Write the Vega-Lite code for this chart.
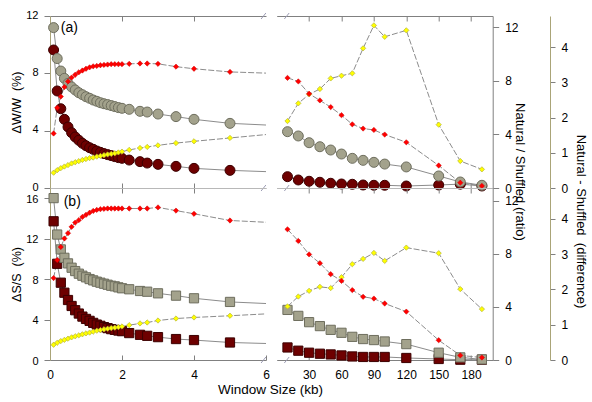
{
  "$schema": "https://vega.github.io/schema/vega-lite/v6.json",
  "padding": {"left": 10, "top": 9, "right": 5, "bottom": 5},
  "config": {
    "font": "Liberation Sans",
    "view": {"stroke": null},
    "axis": {"labelFontSize": 12, "labelColor": "#000", "titleColor": "#000", "titleFontWeight": "normal", "grid": false, "labelFlush": false, "domainWidth": 1, "tickWidth": 1, "tickColor": "#808080", "domainColor": "#808080"}
  },
  "datasets": {
    "a": [
      {"x":0.1,"nat":11.19,"shuf":9.63,"ratio":1.14,"diff":1.55},
      {"x":0.2,"nat":9.03,"shuf":6.77,"ratio":1.33,"diff":2.28},
      {"x":0.3,"nat":8.16,"shuf":5.53,"ratio":1.48,"diff":2.6},
      {"x":0.4,"nat":7.65,"shuf":4.79,"ratio":1.6,"diff":2.87},
      {"x":0.5,"nat":7.3,"shuf":4.26,"ratio":1.71,"diff":3.03},
      {"x":0.6,"nat":7.05,"shuf":3.86,"ratio":1.83,"diff":3.14},
      {"x":0.7,"nat":6.84,"shuf":3.56,"ratio":1.92,"diff":3.22},
      {"x":0.8,"nat":6.65,"shuf":3.33,"ratio":2.0,"diff":3.29},
      {"x":0.9,"nat":6.51,"shuf":3.12,"ratio":2.09,"diff":3.34},
      {"x":1.0,"nat":6.37,"shuf":2.95,"ratio":2.16,"diff":3.39},
      {"x":1.1,"nat":6.26,"shuf":2.81,"ratio":2.23,"diff":3.43},
      {"x":1.2,"nat":6.14,"shuf":2.7,"ratio":2.27,"diff":3.46},
      {"x":1.3,"nat":6.05,"shuf":2.58,"ratio":2.34,"diff":3.47},
      {"x":1.4,"nat":5.95,"shuf":2.49,"ratio":2.39,"diff":3.49},
      {"x":1.5,"nat":5.88,"shuf":2.4,"ratio":2.45,"diff":3.5},
      {"x":1.6,"nat":5.82,"shuf":2.33,"ratio":2.5,"diff":3.51},
      {"x":1.7,"nat":5.75,"shuf":2.26,"ratio":2.54,"diff":3.52},
      {"x":1.8,"nat":5.68,"shuf":2.19,"ratio":2.59,"diff":3.52},
      {"x":1.9,"nat":5.61,"shuf":2.12,"ratio":2.65,"diff":3.52},
      {"x":2.0,"nat":5.56,"shuf":2.07,"ratio":2.71,"diff":3.52},
      {"x":2.2,"nat":5.49,"shuf":1.95,"ratio":2.84,"diff":3.53},
      {"x":2.5,"nat":5.35,"shuf":1.84,"ratio":2.98,"diff":3.54},
      {"x":2.7,"nat":5.3,"shuf":1.74,"ratio":3.06,"diff":3.54},
      {"x":3.0,"nat":5.16,"shuf":1.65,"ratio":3.18,"diff":3.53},
      {"x":3.5,"nat":4.98,"shuf":1.51,"ratio":3.35,"diff":3.45},
      {"x":4.0,"nat":4.79,"shuf":1.37,"ratio":3.48,"diff":3.39},
      {"x":5.0,"nat":4.51,"shuf":1.23,"ratio":3.73,"diff":3.3},
      {"x":10,"nat":3.93,"shuf":0.79,"ratio":4.99,"diff":3.13},
      {"x":20,"nat":3.63,"shuf":0.56,"ratio":6.31,"diff":3.03},
      {"x":30,"nat":3.16,"shuf":0.47,"ratio":6.98,"diff":2.68},
      {"x":40,"nat":2.88,"shuf":0.4,"ratio":7.38,"diff":2.49},
      {"x":50,"nat":2.65,"shuf":0.33,"ratio":8.17,"diff":2.3},
      {"x":60,"nat":2.37,"shuf":0.28,"ratio":8.37,"diff":2.07},
      {"x":70,"nat":2.07,"shuf":0.26,"ratio":8.55,"diff":1.81},
      {"x":80,"nat":1.93,"shuf":0.21,"ratio":10.41,"diff":1.69},
      {"x":90,"nat":1.79,"shuf":0.19,"ratio":12.12,"diff":1.65},
      {"x":100,"nat":1.67,"shuf":0.19,"ratio":11.27,"diff":1.52},
      {"x":120,"nat":1.47,"shuf":0.14,"ratio":11.75,"diff":1.3},
      {"x":150,"nat":0.84,"shuf":0.21,"ratio":4.72,"diff":0.64},
      {"x":170,"nat":0.42,"shuf":0.27,"ratio":2.01,"diff":0.15},
      {"x":190,"nat":0.19,"shuf":0.14,"ratio":1.39,"diff":0.06}
    ],
    "b": [
      {"x":0.1,"nat":16.0,"shuf":13.71,"ratio":1.15,"diff":2.32},
      {"x":0.2,"nat":12.4,"shuf":9.51,"ratio":1.3,"diff":2.83},
      {"x":0.3,"nat":10.93,"shuf":7.64,"ratio":1.43,"diff":3.2},
      {"x":0.4,"nat":10.1,"shuf":6.65,"ratio":1.52,"diff":3.44},
      {"x":0.5,"nat":9.55,"shuf":5.93,"ratio":1.61,"diff":3.59},
      {"x":0.6,"nat":9.12,"shuf":5.34,"ratio":1.71,"diff":3.77},
      {"x":0.7,"nat":8.79,"shuf":4.92,"ratio":1.79,"diff":3.89},
      {"x":0.8,"nat":8.53,"shuf":4.59,"ratio":1.86,"diff":3.96},
      {"x":0.9,"nat":8.33,"shuf":4.29,"ratio":1.94,"diff":4.05},
      {"x":1.0,"nat":8.17,"shuf":4.06,"ratio":2.01,"diff":4.11},
      {"x":1.1,"nat":8.0,"shuf":3.87,"ratio":2.07,"diff":4.17},
      {"x":1.2,"nat":7.87,"shuf":3.67,"ratio":2.14,"diff":4.22},
      {"x":1.3,"nat":7.74,"shuf":3.5,"ratio":2.21,"diff":4.25},
      {"x":1.4,"nat":7.64,"shuf":3.38,"ratio":2.26,"diff":4.27},
      {"x":1.5,"nat":7.54,"shuf":3.25,"ratio":2.32,"diff":4.28},
      {"x":1.6,"nat":7.44,"shuf":3.15,"ratio":2.36,"diff":4.29},
      {"x":1.7,"nat":7.34,"shuf":3.05,"ratio":2.41,"diff":4.29},
      {"x":1.8,"nat":7.28,"shuf":2.98,"ratio":2.44,"diff":4.29},
      {"x":1.9,"nat":7.18,"shuf":2.91,"ratio":2.48,"diff":4.29},
      {"x":2.0,"nat":7.09,"shuf":2.85,"ratio":2.53,"diff":4.29},
      {"x":2.2,"nat":6.99,"shuf":2.66,"ratio":2.63,"diff":4.29},
      {"x":2.5,"nat":6.82,"shuf":2.49,"ratio":2.76,"diff":4.29},
      {"x":2.7,"nat":6.75,"shuf":2.39,"ratio":2.83,"diff":4.29},
      {"x":3.0,"nat":6.59,"shuf":2.26,"ratio":2.98,"diff":4.32},
      {"x":3.5,"nat":6.36,"shuf":2.07,"ratio":3.13,"diff":4.23},
      {"x":4.0,"nat":6.1,"shuf":1.97,"ratio":3.21,"diff":4.14},
      {"x":5.0,"nat":5.74,"shuf":1.73,"ratio":3.34,"diff":3.95},
      {"x":10,"nat":4.95,"shuf":1.24,"ratio":4.04,"diff":3.7},
      {"x":20,"nat":4.36,"shuf":0.92,"ratio":4.79,"diff":3.37},
      {"x":30,"nat":3.74,"shuf":0.72,"ratio":5.22,"diff":2.99},
      {"x":40,"nat":3.35,"shuf":0.62,"ratio":5.52,"diff":2.74},
      {"x":50,"nat":2.98,"shuf":0.55,"ratio":5.43,"diff":2.43},
      {"x":60,"nat":2.69,"shuf":0.45,"ratio":6.25,"diff":2.24},
      {"x":70,"nat":2.29,"shuf":0.35,"ratio":7.23,"diff":1.98},
      {"x":80,"nat":2.07,"shuf":0.3,"ratio":7.63,"diff":1.79},
      {"x":90,"nat":1.97,"shuf":0.3,"ratio":8.08,"diff":1.74},
      {"x":100,"nat":1.83,"shuf":0.3,"ratio":7.48,"diff":1.6},
      {"x":120,"nat":1.57,"shuf":0.2,"ratio":8.48,"diff":1.37},
      {"x":150,"nat":0.72,"shuf":0.1,"ratio":8.06,"diff":0.56},
      {"x":170,"nat":0.26,"shuf":0.03,"ratio":5.35,"diff":0.13},
      {"x":190,"nat":0.06,"shuf":0.03,"ratio":3.84,"diff":0.07}
    ]
  },
  "columns": 2,
  "spacing": {"row": 0, "column": 10.7},
  "bounds": "flush",
  "concat": [
    {
      "width": 216, "height": 172,
      "data": {"name": "a"},
      "resolve": {"scale": {"y": "independent"}, "axis": {"x": "independent"}},
      "layer": [
        {"mark": {"type": "line", "color": "#8c8c8c", "strokeWidth": 1, "clip": true},
         "encoding": {
           "x": {"field": "x", "type": "quantitative", "scale": {"domain": [0, 6]}, "axis": {"orient": "top", "values": [2, 4], "labels": false, "tickSize": -5, "title": null}},
           "y": {"field": "shuf", "type": "quantitative", "scale": {"domain": [0, 12]}, "axis": null}}},
        {"mark": {"type": "line", "color": "#8c8c8c", "strokeWidth": 1, "clip": true},
         "encoding": {
           "x": {"field": "x", "type": "quantitative", "scale": {"domain": [0, 6]}, "axis": {"orient": "bottom", "values": [2, 4], "labels": false, "tickSize": -5, "domainColor": "#b8b8b8", "title": null}},
           "y": {"field": "nat", "type": "quantitative", "scale": {"domain": [0, 12]}, "axis": {"orient": "left", "values": [0, 4, 8, 12], "tickSize": 6, "labelPadding": 6, "labelFontSize": 11, "labelOffset": -1, "domainColor": "#aaa478", "title": "ΔW/W\u00a0 (%)", "titleFontSize": 12.5, "titlePadding": 2}}}},
        {"mark": {"type": "line", "color": "#8c8c8c", "strokeWidth": 1, "strokeDash": [6, 2], "clip": true},
         "encoding": {
           "x": {"field": "x", "type": "quantitative", "scale": {"domain": [0, 6]}, "axis": null},
           "y": {"field": "ratio", "type": "quantitative", "scale": {"domain": [0, 12.82]}, "axis": null}}},
        {"mark": {"type": "line", "color": "#8c8c8c", "strokeWidth": 1, "strokeDash": [6, 2], "clip": true},
         "encoding": {
           "x": {"field": "x", "type": "quantitative", "scale": {"domain": [0, 6]}, "axis": null},
           "y": {"field": "diff", "type": "quantitative", "scale": {"domain": [0, 4.89]}, "axis": null}}},
        {"transform": [{"filter": "datum.x <= 6"}],
         "mark": {"type": "point", "shape": "circle", "filled": true, "size": 100, "fill": "#6e0000", "stroke": "#3c0000", "strokeWidth": 1, "opacity": 1},
         "encoding": {
           "x": {"field": "x", "type": "quantitative", "scale": {"domain": [0, 6]}, "axis": null},
           "y": {"field": "shuf", "type": "quantitative", "scale": {"domain": [0, 12]}, "axis": null}}},
        {"transform": [{"filter": "datum.x <= 6"}],
         "mark": {"type": "point", "shape": "circle", "filled": true, "size": 100, "fill": "#a3a28c", "stroke": "#6e6e5e", "strokeWidth": 1, "opacity": 1},
         "encoding": {
           "x": {"field": "x", "type": "quantitative", "scale": {"domain": [0, 6]}, "axis": null},
           "y": {"field": "nat", "type": "quantitative", "scale": {"domain": [0, 12]}, "axis": null}}},
        {"transform": [{"filter": "datum.x <= 6"}],
         "mark": {"type": "point", "shape": "diamond", "filled": true, "size": 28, "fill": "#ffff00", "stroke": "#b4b43c", "strokeWidth": 0.7, "opacity": 1},
         "encoding": {
           "x": {"field": "x", "type": "quantitative", "scale": {"domain": [0, 6]}, "axis": null},
           "y": {"field": "ratio", "type": "quantitative", "scale": {"domain": [0, 12.82]}, "axis": null}}},
        {"transform": [{"filter": "datum.x <= 6"}],
         "mark": {"type": "point", "shape": "diamond", "filled": true, "size": 28, "fill": "#ff0000", "stroke": "#d00000", "strokeWidth": 0.5, "opacity": 1},
         "encoding": {
           "x": {"field": "x", "type": "quantitative", "scale": {"domain": [0, 6]}, "axis": null},
           "y": {"field": "diff", "type": "quantitative", "scale": {"domain": [0, 4.89]}, "axis": null}}},
        {"data": {"values": [{}]},
         "mark": {"type": "point", "shape": "M-0.4,0.5L0.4,-0.5", "size": 144, "filled": false, "stroke": "#9c9cb4", "strokeWidth": 1, "opacity": 1},
         "encoding": {"x": {"datum": 5.93, "type": "quantitative", "axis": null}, "y": {"datum": 12, "type": "quantitative", "scale": {"domain": [0, 12]}, "axis": null}}},
        {"data": {"values": [{}]},
         "mark": {"type": "point", "shape": "M-0.4,0.5L0.4,-0.5", "size": 144, "filled": false, "stroke": "#9c9cb4", "strokeWidth": 1, "opacity": 1},
         "encoding": {"x": {"datum": 5.93, "type": "quantitative", "axis": null}, "y": {"datum": 0, "type": "quantitative", "scale": {"domain": [0, 12]}, "axis": null}}},
        {"data": {"values": [{}]},
         "mark": {"type": "text", "text": "(a)", "align": "left", "baseline": "middle", "fontSize": 14, "color": "#000"},
         "encoding": {"x": {"datum": 0.3, "type": "quantitative", "axis": null}, "y": {"datum": 11.17, "type": "quantitative", "scale": {"domain": [0, 12]}, "axis": null}}}
      ]
    },
    {
      "width": 216, "height": 172,
      "data": {"name": "a"},
      "transform": [{"filter": "datum.x >= 10"}],
      "resolve": {"scale": {"y": "independent"}, "axis": {"x": "independent"}},
      "layer": [
        {"mark": {"type": "line", "color": "#8c8c8c", "strokeWidth": 1},
         "encoding": {
           "x": {"field": "x", "type": "quantitative", "scale": {"domain": [8, 198.6]}, "axis": {"orient": "top", "values": [30, 60, 90, 120, 150, 180], "labels": false, "tickSize": -5, "title": null}},
           "y": {"field": "shuf", "type": "quantitative", "scale": {"domain": [0, 12]}, "axis": null}}},
        {"mark": {"type": "line", "color": "#8c8c8c", "strokeWidth": 1},
         "encoding": {
           "x": {"field": "x", "type": "quantitative", "scale": {"domain": [8, 198.6]}, "axis": {"orient": "bottom", "values": [30, 60, 90, 120, 150, 180], "labels": false, "tickSize": -5, "domainColor": "#b8b8b8", "title": null}},
           "y": {"field": "nat", "type": "quantitative", "scale": {"domain": [0, 12]}, "axis": null}}},
        {"mark": {"type": "line", "color": "#8c8c8c", "strokeWidth": 1, "strokeDash": [6, 2]},
         "encoding": {
           "x": {"field": "x", "type": "quantitative", "scale": {"domain": [8, 198.6]}, "axis": null},
           "y": {"field": "ratio", "type": "quantitative", "scale": {"domain": [0, 12.82]}, "axis": {"orient": "right", "values": [0, 4, 8, 12], "tickSize": 6, "labelPadding": 6, "title": "Natural / Shuffled (ratio)", "titleFontSize": 13, "titleX": 26.5, "titleY": 155.5, "titleBaseline": "middle", "titleAngle": 90}}}},
        {"mark": {"type": "line", "color": "#8c8c8c", "strokeWidth": 1, "strokeDash": [6, 2]},
         "encoding": {
           "x": {"field": "x", "type": "quantitative", "scale": {"domain": [8, 198.6]}, "axis": null},
           "y": {"field": "diff", "type": "quantitative", "scale": {"domain": [0, 4.89]}, "axis": {"orient": "right", "offset": 57.3, "values": [0, 1, 2, 3, 4], "tickSize": 5, "labelPadding": 6, "domainColor": "#aaa478", "title": "Natural - Shuffled\u00a0 (difference)", "titleFontSize": 13, "titleX": 30, "titleY": 205, "titleBaseline": "middle", "titleAngle": 90}}}},
        {"mark": {"type": "point", "shape": "circle", "filled": true, "size": 100, "fill": "#6e0000", "stroke": "#3c0000", "strokeWidth": 1, "opacity": 1},
         "encoding": {
           "x": {"field": "x", "type": "quantitative", "scale": {"domain": [8, 198.6]}, "axis": null},
           "y": {"field": "shuf", "type": "quantitative", "scale": {"domain": [0, 12]}, "axis": null}}},
        {"mark": {"type": "point", "shape": "circle", "filled": true, "size": 100, "fill": "#a3a28c", "stroke": "#6e6e5e", "strokeWidth": 1, "opacity": 1},
         "encoding": {
           "x": {"field": "x", "type": "quantitative", "scale": {"domain": [8, 198.6]}, "axis": null},
           "y": {"field": "nat", "type": "quantitative", "scale": {"domain": [0, 12]}, "axis": null}}},
        {"mark": {"type": "point", "shape": "diamond", "filled": true, "size": 28, "fill": "#ffff00", "stroke": "#b4b43c", "strokeWidth": 0.7, "opacity": 1},
         "encoding": {
           "x": {"field": "x", "type": "quantitative", "scale": {"domain": [8, 198.6]}, "axis": null},
           "y": {"field": "ratio", "type": "quantitative", "scale": {"domain": [0, 12.82]}, "axis": null}}},
        {"mark": {"type": "point", "shape": "diamond", "filled": true, "size": 28, "fill": "#ff0000", "stroke": "#d00000", "strokeWidth": 0.5, "opacity": 1},
         "encoding": {
           "x": {"field": "x", "type": "quantitative", "scale": {"domain": [8, 198.6]}, "axis": null},
           "y": {"field": "diff", "type": "quantitative", "scale": {"domain": [0, 4.89]}, "axis": null}}},
        {"data": {"values": [{}]},
         "mark": {"type": "point", "shape": "M-0.4,0.5L0.4,-0.5", "size": 144, "filled": false, "stroke": "#9c9cb4", "strokeWidth": 1, "opacity": 1},
         "encoding": {"x": {"datum": 9.3, "type": "quantitative", "axis": null}, "y": {"datum": 12, "type": "quantitative", "scale": {"domain": [0, 12]}, "axis": null}}},
        {"data": {"values": [{}]},
         "mark": {"type": "point", "shape": "M-0.4,0.5L0.4,-0.5", "size": 144, "filled": false, "stroke": "#9c9cb4", "strokeWidth": 1, "opacity": 1},
         "encoding": {"x": {"datum": 9.3, "type": "quantitative", "axis": null}, "y": {"datum": 0, "type": "quantitative", "scale": {"domain": [0, 12]}, "axis": null}}}
      ]
    },
    {
      "width": 216, "height": 172,
      "data": {"name": "b"},
      "resolve": {"scale": {"y": "independent"}, "axis": {"x": "independent"}},
      "layer": [
        {"mark": {"type": "line", "color": "#8c8c8c", "strokeWidth": 1, "clip": true},
         "encoding": {
           "x": {"field": "x", "type": "quantitative", "scale": {"domain": [0, 6]}, "axis": {"orient": "top", "values": [2, 4], "labels": false, "tickSize": -5, "domainColor": "#b8b8b8", "title": null}},
           "y": {"field": "shuf", "type": "quantitative", "scale": {"domain": [0, 17]}, "axis": null}}},
        {"mark": {"type": "line", "color": "#8c8c8c", "strokeWidth": 1, "clip": true},
         "encoding": {
           "x": {"field": "x", "type": "quantitative", "scale": {"domain": [0, 6]}, "axis": {"orient": "bottom", "values": [0, 2, 4, 6], "tickSize": -5, "labelPadding": 14, "title": "Window Size (kb)", "titleFontSize": 13.5, "titleX": 220, "titleY": 22, "titleBaseline": "top", "titleAlign": "center"}},
           "y": {"field": "nat", "type": "quantitative", "scale": {"domain": [0, 17]}, "axis": {"orient": "left", "values": [0, 4, 8, 12, 16], "tickSize": 6, "labelPadding": 6, "labelFontSize": 11, "labelOffset": 1, "domainColor": "#aaa478", "title": "ΔS/S\u00a0 (%)", "titleFontSize": 12.5, "titlePadding": 2}}}},
        {"mark": {"type": "line", "color": "#8c8c8c", "strokeWidth": 1, "strokeDash": [6, 2], "clip": true},
         "encoding": {
           "x": {"field": "x", "type": "quantitative", "scale": {"domain": [0, 6]}, "axis": null},
           "y": {"field": "ratio", "type": "quantitative", "scale": {"domain": [0, 12.98]}, "axis": null}}},
        {"mark": {"type": "line", "color": "#8c8c8c", "strokeWidth": 1, "strokeDash": [6, 2], "clip": true},
         "encoding": {
           "x": {"field": "x", "type": "quantitative", "scale": {"domain": [0, 6]}, "axis": null},
           "y": {"field": "diff", "type": "quantitative", "scale": {"domain": [0, 4.87]}, "axis": null}}},
        {"transform": [{"filter": "datum.x <= 6"}],
         "mark": {"type": "point", "shape": "square", "filled": true, "size": 85, "fill": "#6e0000", "stroke": "#3c0000", "strokeWidth": 1, "opacity": 1},
         "encoding": {
           "x": {"field": "x", "type": "quantitative", "scale": {"domain": [0, 6]}, "axis": null},
           "y": {"field": "shuf", "type": "quantitative", "scale": {"domain": [0, 17]}, "axis": null}}},
        {"transform": [{"filter": "datum.x <= 6"}],
         "mark": {"type": "point", "shape": "square", "filled": true, "size": 85, "fill": "#a3a28c", "stroke": "#6e6e5e", "strokeWidth": 1, "opacity": 1},
         "encoding": {
           "x": {"field": "x", "type": "quantitative", "scale": {"domain": [0, 6]}, "axis": null},
           "y": {"field": "nat", "type": "quantitative", "scale": {"domain": [0, 17]}, "axis": null}}},
        {"transform": [{"filter": "datum.x <= 6"}],
         "mark": {"type": "point", "shape": "diamond", "filled": true, "size": 28, "fill": "#ffff00", "stroke": "#b4b43c", "strokeWidth": 0.7, "opacity": 1},
         "encoding": {
           "x": {"field": "x", "type": "quantitative", "scale": {"domain": [0, 6]}, "axis": null},
           "y": {"field": "ratio", "type": "quantitative", "scale": {"domain": [0, 12.98]}, "axis": null}}},
        {"transform": [{"filter": "datum.x <= 6"}],
         "mark": {"type": "point", "shape": "diamond", "filled": true, "size": 28, "fill": "#ff0000", "stroke": "#d00000", "strokeWidth": 0.5, "opacity": 1},
         "encoding": {
           "x": {"field": "x", "type": "quantitative", "scale": {"domain": [0, 6]}, "axis": null},
           "y": {"field": "diff", "type": "quantitative", "scale": {"domain": [0, 4.87]}, "axis": null}}},
        {"data": {"values": [{}]},
         "mark": {"type": "point", "shape": "M-0.4,0.5L0.4,-0.5", "size": 144, "filled": false, "stroke": "#9c9cb4", "strokeWidth": 1, "opacity": 1},
         "encoding": {"x": {"datum": 5.93, "type": "quantitative", "axis": null}, "y": {"datum": 0, "type": "quantitative", "scale": {"domain": [0, 17]}, "axis": null}}},
        {"data": {"values": [{}]},
         "mark": {"type": "text", "text": "(b)", "align": "left", "baseline": "middle", "fontSize": 14, "color": "#000"},
         "encoding": {"x": {"datum": 0.38, "type": "quantitative", "axis": null}, "y": {"datum": 15.6, "type": "quantitative", "scale": {"domain": [0, 17]}, "axis": null}}}
      ]
    },
    {
      "width": 216, "height": 172,
      "data": {"name": "b"},
      "transform": [{"filter": "datum.x >= 10"}],
      "resolve": {"scale": {"y": "independent"}, "axis": {"x": "independent"}},
      "layer": [
        {"mark": {"type": "line", "color": "#8c8c8c", "strokeWidth": 1},
         "encoding": {
           "x": {"field": "x", "type": "quantitative", "scale": {"domain": [8, 198.6]}, "axis": {"orient": "top", "values": [30, 60, 90, 120, 150, 180], "labels": false, "tickSize": -5, "domainColor": "#b8b8b8", "title": null}},
           "y": {"field": "shuf", "type": "quantitative", "scale": {"domain": [0, 17]}, "axis": null}}},
        {"mark": {"type": "line", "color": "#8c8c8c", "strokeWidth": 1},
         "encoding": {
           "x": {"field": "x", "type": "quantitative", "scale": {"domain": [8, 198.6]}, "axis": {"orient": "bottom", "values": [30, 60, 90, 120, 150, 180], "tickSize": -5, "labelPadding": 14, "title": null}},
           "y": {"field": "nat", "type": "quantitative", "scale": {"domain": [0, 17]}, "axis": null}}},
        {"mark": {"type": "line", "color": "#8c8c8c", "strokeWidth": 1, "strokeDash": [6, 2]},
         "encoding": {
           "x": {"field": "x", "type": "quantitative", "scale": {"domain": [8, 198.6]}, "axis": null},
           "y": {"field": "ratio", "type": "quantitative", "scale": {"domain": [0, 12.98]}, "axis": {"orient": "right", "values": [0, 4, 8, 12], "tickSize": 6, "labelPadding": 6, "title": null}}}},
        {"mark": {"type": "line", "color": "#8c8c8c", "strokeWidth": 1, "strokeDash": [6, 2]},
         "encoding": {
           "x": {"field": "x", "type": "quantitative", "scale": {"domain": [8, 198.6]}, "axis": null},
           "y": {"field": "diff", "type": "quantitative", "scale": {"domain": [0, 4.87]}, "axis": {"orient": "right", "offset": 57.3, "values": [0, 1, 2, 3, 4], "tickSize": 5, "labelPadding": 6, "domainColor": "#aaa478", "title": null}}}},
        {"mark": {"type": "point", "shape": "square", "filled": true, "size": 85, "fill": "#6e0000", "stroke": "#3c0000", "strokeWidth": 1, "opacity": 1},
         "encoding": {
           "x": {"field": "x", "type": "quantitative", "scale": {"domain": [8, 198.6]}, "axis": null},
           "y": {"field": "shuf", "type": "quantitative", "scale": {"domain": [0, 17]}, "axis": null}}},
        {"mark": {"type": "point", "shape": "square", "filled": true, "size": 85, "fill": "#a3a28c", "stroke": "#6e6e5e", "strokeWidth": 1, "opacity": 1},
         "encoding": {
           "x": {"field": "x", "type": "quantitative", "scale": {"domain": [8, 198.6]}, "axis": null},
           "y": {"field": "nat", "type": "quantitative", "scale": {"domain": [0, 17]}, "axis": null}}},
        {"mark": {"type": "point", "shape": "diamond", "filled": true, "size": 28, "fill": "#ffff00", "stroke": "#b4b43c", "strokeWidth": 0.7, "opacity": 1},
         "encoding": {
           "x": {"field": "x", "type": "quantitative", "scale": {"domain": [8, 198.6]}, "axis": null},
           "y": {"field": "ratio", "type": "quantitative", "scale": {"domain": [0, 12.98]}, "axis": null}}},
        {"mark": {"type": "point", "shape": "diamond", "filled": true, "size": 28, "fill": "#ff0000", "stroke": "#d00000", "strokeWidth": 0.5, "opacity": 1},
         "encoding": {
           "x": {"field": "x", "type": "quantitative", "scale": {"domain": [8, 198.6]}, "axis": null},
           "y": {"field": "diff", "type": "quantitative", "scale": {"domain": [0, 4.87]}, "axis": null}}},
        {"data": {"values": [{}]},
         "mark": {"type": "point", "shape": "M-0.4,0.5L0.4,-0.5", "size": 144, "filled": false, "stroke": "#9c9cb4", "strokeWidth": 1, "opacity": 1},
         "encoding": {"x": {"datum": 9.3, "type": "quantitative", "axis": null}, "y": {"datum": 0, "type": "quantitative", "scale": {"domain": [0, 17]}, "axis": null}}}
      ]
    }
  ]
}
